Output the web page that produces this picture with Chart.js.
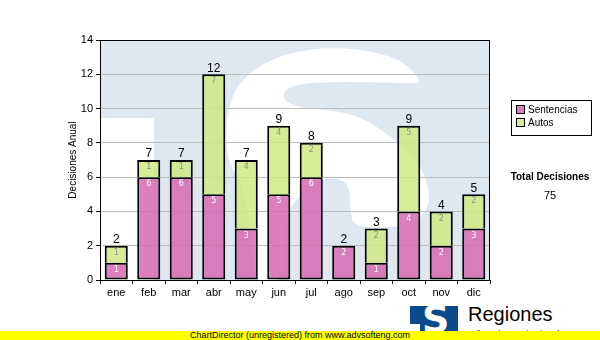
<!DOCTYPE html>
<html>
<head>
<meta charset="utf-8">
<script src="https://cdn.jsdelivr.net/npm/chart.js@4/dist/chart.umd.min.js"></script>
<style>
  body { margin: 0; background: #fff; }
  #wrap { position: relative; width: 600px; height: 340px; overflow: hidden; font-family: "Liberation Sans", Arial, sans-serif; }
  #chartBox { position: absolute; left: 0; top: 0; width: 600px; height: 300px; }
  .legend { position: absolute; left: 511px; top: 100px; width: 81px; height: 36px; border: 1px solid #000; box-sizing: border-box; background: #fff; }
  .legend div { position: absolute; left: 4px; font-size: 10px; line-height: 12px; }
  .legend span { display: inline-block; width: 7px; height: 7px; border: 1px solid #000; margin-right: 3px; vertical-align: -1px; }
  .total { position: absolute; left: 500px; top: 171px; width: 100px; text-align: center; font-weight: bold; font-size: 10px; }
  .totalNum { position: absolute; left: 500px; top: 189px; width: 100px; text-align: center; font-size: 11px; }
  .logo { position: absolute; left: 410px; top: 306px; width: 48px; height: 30px; background: #0b4a8b; overflow: hidden; }
  .logo .s { position: absolute; left: 12px; top: -9px; color: #fff; font: bold 38px "DejaVu Sans", sans-serif; }
  .logo .notch { position: absolute; left: 0; top: 18px; width: 10px; height: 14px; background: #fff; }
  .brand { position: absolute; left: 468px; top: 303px; font-size: 20px; color: #000; }
  .sub { position: absolute; left: 468px; top: 329px; font-size: 9px; color: #000; }
  .bar { position: absolute; left: 0; top: 331px; width: 600px; height: 9px; background: #ffff00; text-align: center; font-size: 9px; line-height: 9px; color: #000; }
</style>
</head>
<body>
<div id="wrap">
  <div id="chartBox"><canvas id="c" width="600" height="300"></canvas></div>
  <div class="legend">
    <div style="top:3px"><span style="background:#df80be"></span>Sentencias</div>
    <div style="top:16px"><span style="background:#d6ec98"></span>Autos</div>
  </div>
  <div class="total">Total Decisiones</div>
  <div class="totalNum" id="totalNum"></div>
  <div class="logo"><div class="s">S</div><div class="notch"></div></div>
  <div class="brand">Regiones</div>
  <div class="sub">Tribunal Constitucional</div>
  <div class="bar">ChartDirector (unregistered) from www.advsofteng.com</div>
</div>

<script>
var meses = ['ene', 'feb', 'mar', 'abr', 'may', 'jun', 'jul', 'ago', 'sep', 'oct', 'nov', 'dic'];
var sentencias = [1, 6, 6, 5, 3, 5, 6, 2, 1, 4, 2, 3];
var autos = [1, 1, 1, 7, 4, 4, 2, 0, 2, 5, 2, 2];
var yTicks = [0, 2, 4, 6, 8, 10, 12, 14];

var totalGeneral = 0;
for (var i = 0; i < meses.length; i++) totalGeneral += sentencias[i] + autos[i];
document.getElementById('totalNum').textContent = totalGeneral;

// faint "S" logo behind the plot
var watermark = {
  id: 'watermark',
  beforeDraw: function(chart) {
    var ctx = chart.ctx, a = chart.chartArea;
    ctx.save();
    ctx.beginPath();
    ctx.rect(a.left, a.top, a.right - a.left, a.bottom - a.top);
    ctx.clip();
    ctx.fillStyle = '#dfe8f1';
    ctx.fillRect(a.left, a.top, a.right - a.left, a.bottom - a.top);
    ctx.translate(a.left, a.top);
    ctx.fillStyle = '#fff';
    ctx.fillRect(0, 78, 54, 200);
    var pts = [[125,85],[135,45],[170,18],[220,7],[270,10],[305,22],[320,40],[318,44],[280,42],[210,42],
               [185,48],[183,60],[200,68],[250,72],[283,90],[318,120],[330,150],[328,168],[315,183],
               [290,188],[255,187],[250,173],[250,145],[235,137],[220,140],[200,155],[185,175],[182,245],
               [155,245],[150,187],[145,157],[140,140],[128,123]];
    ctx.beginPath();
    var n = pts.length;
    var m0 = [(pts[n-1][0] + pts[0][0]) / 2, (pts[n-1][1] + pts[0][1]) / 2];
    ctx.moveTo(m0[0], m0[1]);
    for (var k = 0; k < n; k++) {
      var p = pts[k], q = pts[(k + 1) % n];
      ctx.quadraticCurveTo(p[0], p[1], (p[0] + q[0]) / 2, (p[1] + q[1]) / 2);
    }
    ctx.closePath();
    ctx.fill();
    ctx.restore();
  },
  beforeDatasetsDraw: function(chart) {
    var ctx = chart.ctx, a = chart.chartArea;
    ctx.save();
    ctx.strokeStyle = '#000';
    ctx.lineWidth = 1;
    ctx.strokeRect(Math.round(a.left) + 0.5, Math.round(a.top) + 0.5, Math.round(a.right - a.left) - 1, Math.round(a.bottom - a.top));
    ctx.restore();
  }
};

// segment values inside the bars and totals on top
var barLabels = {
  id: 'barLabels',
  afterDatasetsDraw: function(chart) {
    var ctx = chart.ctx;
    var series = [sentencias, autos];
    var colors = ['#ffffff', '#8f8f8f'];
    ctx.save();
    ctx.textAlign = 'center';
    ctx.textBaseline = 'middle';
    for (var i = 0; i < meses.length; i++) {
      var topY = null, x = 0;
      for (var d = 0; d < series.length; d++) {
        var el = chart.getDatasetMeta(d).data[i];
        var v = series[d][i];
        if (!v) continue;
        ctx.font = '8px "DejaVu Sans", sans-serif';
        ctx.fillStyle = colors[d];
        ctx.fillText(v, el.x, el.y + 7);
        topY = el.y; x = el.x;
      }
      ctx.font = '12px "Liberation Sans", Arial, sans-serif';
      ctx.fillStyle = '#000';
      ctx.fillText(sentencias[i] + autos[i], x, topY - 6);
    }
    ctx.restore();
  }
};

new Chart(document.getElementById('c'), {
  type: 'bar',
  data: {
    labels: meses,
    datasets: [
      { label: 'Sentencias', data: sentencias, backgroundColor: 'rgba(216,105,178,0.85)', borderColor: '#000', borderWidth: 2, borderSkipped: false, barPercentage: 0.71, categoryPercentage: 1 },
      { label: 'Autos', data: autos, backgroundColor: 'rgba(207,233,131,0.85)', borderColor: '#000', borderWidth: 2, borderSkipped: 'bottom', barPercentage: 0.71, categoryPercentage: 1 }
    ]
  },
  options: {
    responsive: false,
    animation: false,
    layout: { padding: { top: 40, right: 110, left: 60, bottom: 0 } },
    plugins: { legend: { display: false }, tooltip: { enabled: false } },
    scales: {
      x: {
        stacked: true,
        grid: { drawOnChartArea: false, tickLength: 4, tickColor: '#000' },
        border: { color: '#000' },
        ticks: { color: '#000', font: { family: 'Liberation Sans', size: 11 }, padding: 2, maxRotation: 0, autoSkip: false },
        afterFit: function(s) { s.height = 20; }
      },
      y: {
        stacked: true,
        min: 0,
        max: 14,
        afterBuildTicks: function(s) { s.ticks = yTicks.map(function(v) { return { value: v }; }); },
        grid: { color: '#bdbdbd', tickLength: 4, tickColor: '#000' },
        border: { color: '#000' },
        ticks: { color: '#000', font: { family: 'Liberation Sans', size: 11 }, padding: 3 },
        title: { display: true, text: 'Decisiones Anual', color: '#000', font: { family: 'Liberation Sans', size: 10 }, padding: { top: 7, bottom: 0 } },
        afterFit: function(s) { s.width = 40; }
      }
    }
  },
  plugins: [watermark, barLabels]
});
</script>
</body>
</html>
